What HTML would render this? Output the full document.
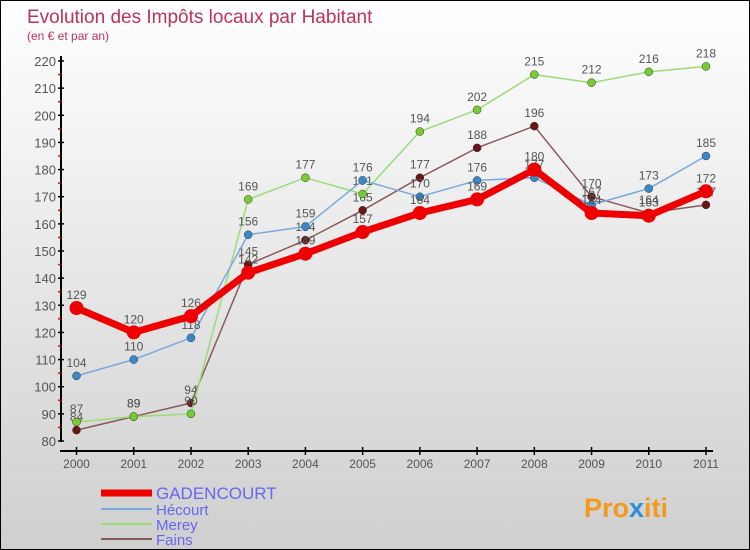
<!DOCTYPE html>
<html><head><meta charset="utf-8"><style>
body{margin:0}
#c{width:750px;height:550px;position:relative;box-sizing:border-box;border:1px solid #000;background:linear-gradient(#ffffff,#cfcfcf);font-family:"Liberation Sans",sans-serif;overflow:hidden}
</style></head><body>
<div id="c">
<svg id="s" width="750" height="550" style="position:absolute;left:0;top:0">
<text x="26" y="22" font-size="19" fill="#c0305a">Evolution des Impôts locaux par Habitant</text>
<text x="26" y="39" font-size="12" fill="#c0305a">(en € et par an)</text>
<g id="axes"></g><g id="series"></g><g id="legend"></g>
<text x="583" y="516" font-size="27" font-weight="bold" fill="#f39a1e">Pro<tspan fill="#2a8fd8">x</tspan>iti</text>
</svg>
</div>
<script>
const years=[2000,2001,2002,2003,2004,2005,2006,2007,2008,2009,2010,2011];
const gadencourt=[129,120,126,142,149,157,164,169,180,164,163,172];
const hecourt=[104,110,118,156,159,176,170,176,177,167,173,185];
const merey=[87,89,90,169,177,171,194,202,215,212,216,218];
const fains=[84,89,94,145,154,165,177,188,196,170,164,167];
const yTicks=[80,90,100,110,120,130,140,150,160,170,180,190,200,210,220];
const NS="http://www.w3.org/2000/svg";
const xs=i=>75.5+i*(705-75.5)/(years.length-1);
const ys=v=>440-(v-80)*380/140;
function mk(t,a,p){const e=document.createElementNS(NS,t);for(const k in a)e.setAttribute(k,a[k]);p.appendChild(e);return e;}
const ax=document.getElementById('axes');
let l=mk('line',{x1:60,y1:55,x2:60,y2:441,stroke:'#000','stroke-width':2},ax);


l=mk('line',{x1:59,y1:450,x2:712,y2:450,stroke:'#000','stroke-width':2},ax);


yTicks.forEach(v=>{
 mk('line',{x1:57,y1:ys(v),x2:63,y2:ys(v),stroke:'#000','stroke-width':1.5},ax);
 if(v<220) mk('line',{x1:57,y1:ys(v+5),x2:60,y2:ys(v+5),stroke:'#e00','stroke-width':1.5},ax);
 const t=mk('text',{x:55,y:ys(v)+5,'font-size':13,fill:'#555','text-anchor':'end'},ax);
 t.textContent=v;
 
 
});
years.forEach((y,i)=>{
 mk('line',{x1:xs(i),y1:446,x2:xs(i),y2:454,stroke:'#000','stroke-width':1.5},ax);
 const t=mk('text',{x:xs(i),y:467,'font-size':12,fill:'#555','text-anchor':'middle'},ax);
 t.textContent=y;
 
 
});
const S=[
 {n:'Fains',d:fains,c:'#8a5a5a',w:1.5,pc:'#6b1414',r:4},
 {n:'Merey',d:merey,c:'#99dd77',w:1.5,pc:'#77cc33',r:4},
 {n:'Hécourt',d:hecourt,c:'#77aadd',w:1.5,pc:'#3a88cc',r:4},
 {n:'GADENCOURT',d:gadencourt,c:'#ee0000',w:7,pc:'#ee0000',r:7}
];
const sg=document.getElementById('series');
S.forEach(s=>{
 const g=mk('g',{},sg);
 
 
 mk('polyline',{points:s.d.map((v,i)=>xs(i)+','+ys(v)).join(' '),fill:'none',stroke:s.c,'stroke-width':s.w,'stroke-linejoin':'round'},g);
 s.d.forEach((v,i)=>{
  const p=mk('circle',{cx:xs(i),cy:ys(v),r:s.r,fill:s.pc,stroke:s.w>2?'none':'#333','stroke-width':0.5},g);
  
  
  const t=mk('text',{x:xs(i),y:ys(v)-9,'font-size':12,fill:'#555','text-anchor':'middle'},g);
  t.textContent=v;
  
  
 });
});
const lg=document.getElementById('legend');
const L=[['GADENCOURT','#ee0000',7,17,492],['Hécourt','#77aadd',2,15,508],['Merey','#99dd77',2,15,523],['Fains','#8a5a5a',2,15,538]];
L.forEach(e=>{
 const g=mk('g',{},lg);
 
 
 mk('line',{x1:100,y1:e[4],x2:151,y2:e[4],stroke:e[1],'stroke-width':e[2]},g);
 const t=mk('text',{x:155,y:e[4]+6,'font-size':e[3],fill:'#6666ee'},g);
 t.textContent=e[0];
});
</script>
</body></html>
